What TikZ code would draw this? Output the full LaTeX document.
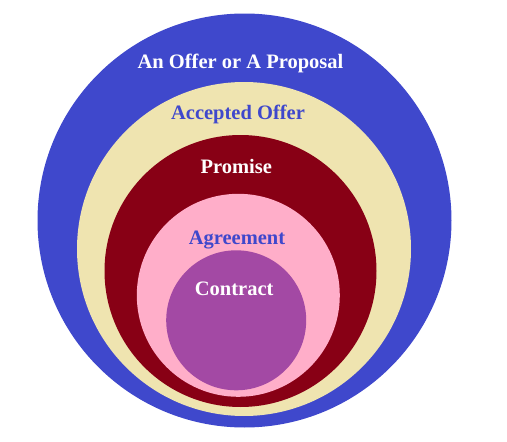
\documentclass[tikz,border=0pt]{standalone}
\usepackage{fontspec}
\setmainfont{Liberation Serif}
\definecolor{cblue}{HTML}{3F48CC}
\definecolor{cbeige}{HTML}{EFE4B0}
\definecolor{cred}{HTML}{880015}
\definecolor{cpink}{HTML}{FFAEC9}
\definecolor{cpurple}{HTML}{A349A4}
\begin{document}
\begin{tikzpicture}[x=1pt,y=-1pt,
  ring/.style={circle,inner sep=0pt,outer sep=0pt,draw=none},
  lbl/.style={anchor=base,inner sep=0pt,font=\fontsize{20.5}{24}\selectfont\bfseries}]
\useasboundingbox (0,0) rectangle (507,442);
\node[ring,fill=cblue,minimum size=414pt] (offer) at (244.5,220.5) {};
\node[ring,fill=cbeige,minimum size=334pt] (accepted) at (244,249) {};
\node[ring,fill=cred,minimum size=272pt] (promise) at (240.5,271) {};
\node[ring,fill=cpink,minimum size=203pt] (agreement) at (238.3,295.3) {};
\node[ring,fill=cpurple,minimum size=140pt] (contract) at (236.2,320.3) {};
\node[lbl,text=white] (t1) at (240.5,68.3) {An Offer or A Proposal};
\node[lbl,text=cblue] (t2) at (238,119) {Accepted Offer};
\node[lbl,text=white] (t3) at (236.3,173.3) {Promise};
\node[lbl,text=cblue] (t4) at (237,244) {Agreement};
\node[lbl,text=white] (t5) at (234.2,295) {Contract};
\end{tikzpicture}
\end{document}
